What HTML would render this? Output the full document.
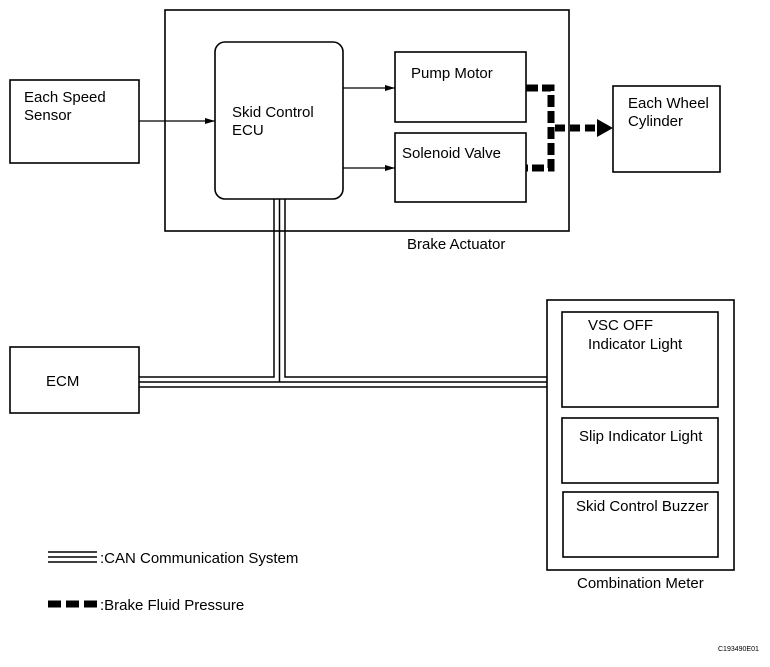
<!DOCTYPE html>
<html><head><style>
body{margin:0;background:#fff}
svg text{font-family:"Liberation Sans",Arial,sans-serif;font-size:15px;fill:#000}
</style></head><body>
<svg width="770" height="662" viewBox="0 0 770 662" xmlns="http://www.w3.org/2000/svg">
<defs><marker id="a" markerWidth="10" markerHeight="8" refX="10" refY="4" orient="auto" markerUnits="userSpaceOnUse"><path d="M0,1 L10,4 L0,7 Z" fill="#000"/></marker></defs>
<g fill="none" stroke="#000" stroke-width="1.6">
<rect x="165" y="10" width="404" height="221"/>
<rect x="215" y="42" width="128" height="157" rx="10"/>
<rect x="395" y="52" width="131" height="70"/>
<rect x="395" y="133" width="131" height="69"/>
<rect x="613" y="86" width="107" height="86"/>
<rect x="10" y="80" width="129" height="83"/>
<rect x="10" y="347" width="129" height="66"/>
<rect x="547" y="300" width="187" height="270"/>
<rect x="562" y="312" width="156" height="95"/>
<rect x="562" y="418" width="156" height="65"/>
<rect x="563" y="492" width="155" height="65"/>
</g>
<g stroke="#000" stroke-width="1.3" fill="none">
<line x1="139" y1="121" x2="215" y2="121" marker-end="url(#a)"/>
<line x1="343" y1="88" x2="395" y2="88" marker-end="url(#a)"/>
<line x1="343" y1="168" x2="395" y2="168" marker-end="url(#a)"/>
</g>
<g stroke="#000" stroke-width="1.5" fill="none">
<path d="M274 199 V377 H139"/>
<path d="M279.5 199 V382 M139 382 H547"/>
<path d="M285 199 V377 H547"/>
<line x1="139" y1="387" x2="547" y2="387"/>
<line x1="48" y1="552" x2="97" y2="552"/>
<line x1="48" y1="557" x2="97" y2="557"/>
<line x1="48" y1="562" x2="97" y2="562"/>
</g>
<g stroke="#000" stroke-width="7" fill="none">
<path d="M526 88 H551 V168 H526" stroke-dasharray="12,4"/>
<line x1="555" y1="128" x2="600" y2="128" stroke-dasharray="10,5"/>
<line x1="48" y1="604" x2="97" y2="604" stroke-dasharray="13,5"/>
</g>
<path d="M597 119 L613 128 L597 137 Z" fill="#000"/>
<text x="24" y="102">Each Speed</text><text x="24" y="120">Sensor</text>
<text x="232" y="117">Skid Control</text><text x="232" y="135">ECU</text>
<text x="411" y="78">Pump Motor</text>
<text x="402" y="158">Solenoid Valve</text>
<text x="628" y="108">Each Wheel</text><text x="628" y="126">Cylinder</text>
<text x="407" y="249">Brake Actuator</text>
<text x="46" y="386">ECM</text>
<text x="588" y="330">VSC OFF</text><text x="588" y="349">Indicator Light</text>
<text x="579" y="441">Slip Indicator Light</text>
<text x="576" y="511">Skid Control Buzzer</text>
<text x="577" y="588">Combination Meter</text>
<text x="100" y="563">:CAN Communication System</text>
<text x="100" y="610">:Brake Fluid Pressure</text>
<text x="718" y="651" style="font-size:7px">C193490E01</text>
</svg>
</body></html>
